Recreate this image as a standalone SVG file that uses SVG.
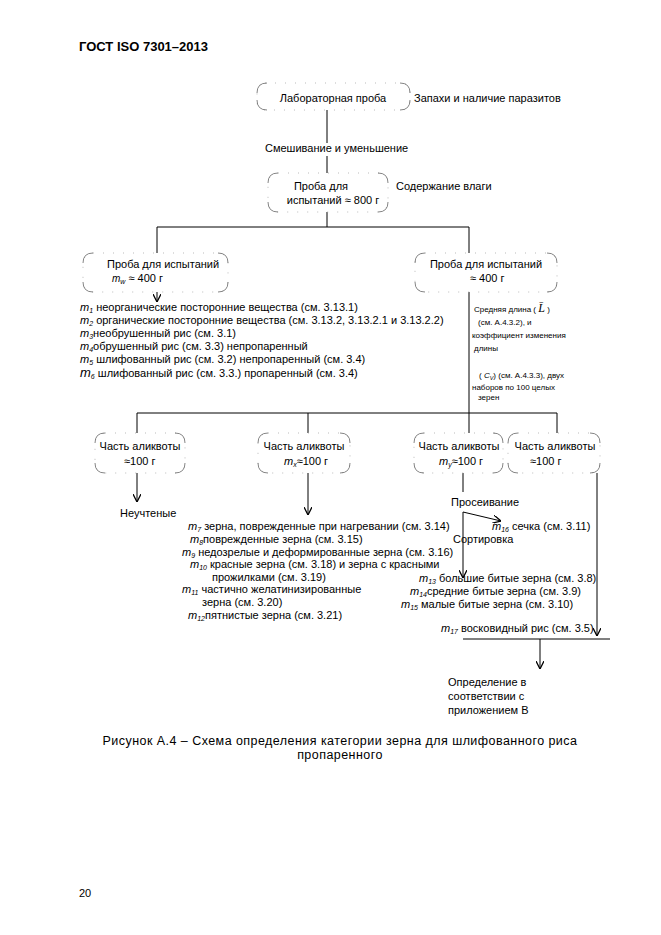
<svg xmlns="http://www.w3.org/2000/svg" width="661" height="935" viewBox="0 0 661 935">
<style>
text{font-family:"Liberation Sans",Arial,sans-serif;font-size:11px;fill:#000}
.h{font-size:13px;font-weight:bold}
.s{font-size:8px}
.c{font-size:12.5px;letter-spacing:0.45px}
.m{font-style:italic}
.sub{font-size:7px;font-style:italic}
.corner{fill:none;stroke:#666;stroke-width:0.8}
.dots{fill:none;stroke:#aaa;stroke-width:0.8;stroke-dasharray:1 9}
.ln{fill:none;stroke:#000;stroke-width:1}
</style>
<defs>
<marker id="arr" viewBox="0 0 10 10" refX="10" refY="5" markerWidth="8" markerHeight="8" markerUnits="userSpaceOnUse" orient="auto">
<path d="M0,0 L10,5 L0,10" fill="none" stroke="#000" stroke-width="1.6"/>
</marker>
</defs>
<rect width="661" height="935" fill="#fff"/>
<text class="h" x="79" y="51">ГОСТ ISO 7301–2013</text>

<g id="connectors">
<path class="ln" d="M327,110 V143 M327,156 V173 M327,212 V227 M157,227 H469 M157,227 V253 M469,227 V253"/>
<path class="ln" d="M157,292 V302" marker-end="url(#arr)"/>
<path class="ln" d="M469,292 V413 M137,413 H557 M137,413 V433 M308,413 V433 M469,413 V433 M557,413 V433"/>
<path class="ln" d="M137,473 V502" marker-end="url(#arr)"/>
<path class="ln" d="M308,473 V515" marker-end="url(#arr)"/>
<path class="ln" d="M463,473 V492"/>
<path class="ln" d="M463,512 V578" marker-end="url(#arr)"/>
<path class="ln" d="M463,512 L501,521" marker-end="url(#arr)"/>
<path class="ln" d="M597,473 V636" marker-end="url(#arr)"/>
<path class="ln" d="M463,639 H610"/>
<path class="ln" d="M540,639 V669" marker-end="url(#arr)"/>
</g>

<g id="lab">
<rect class="dots" x="257" y="83" width="153" height="27" rx="8"/>
<path class="corner" d="M257,93 Q257,83 267,83 M400,83 Q410,83 410,93 M410,100 Q410,110 400,110 M267,110 Q257,110 257,100"/>
<text x="333" y="102" text-anchor="middle">Лабораторная проба</text>
</g>
<text x="414" y="102">Запахи и наличие паразитов</text>
<text x="265" y="152">Смешивание и уменьшение</text>

<g id="p800">
<rect class="dots" x="268" y="173" width="120" height="39" rx="10"/>
<path class="corner" d="M268,183 Q268,173 278,173 M378,173 Q388,173 388,183 M388,202 Q388,212 378,212 M278,212 Q268,212 268,202"/>
<text x="321" y="190" text-anchor="middle">Проба для</text>
<text x="333" y="204" text-anchor="middle">испытаний ≈ 800 г</text>
</g>
<text x="396" y="190">Содержание влаги</text>

<g id="pL">
<rect class="dots" x="83" y="253" width="145" height="39" rx="10"/>
<path class="corner" d="M83,263 Q83,253 93,253 M218,253 Q228,253 228,263 M228,282 Q228,292 218,292 M93,292 Q83,292 83,282"/>
<text x="107" y="268">Проба для испытаний</text>
<text x="112" y="282"><tspan class="m" font-size="10">m</tspan><tspan class="sub" dy="1.5">w</tspan><tspan dy="-1.5"> ≈  400 г</tspan></text>
</g>

<g id="listL">
<text x="80" y="311"><tspan class="m">m</tspan><tspan class="sub" dy="2">1</tspan><tspan dy="-2"> неорганические посторонние вещества (см. 3.13.1)</tspan></text>
<text x="80" y="324"><tspan class="m">m</tspan><tspan class="sub" dy="2">2</tspan><tspan dy="-2"> органические посторонние вещества (см. 3.13.2, 3.13.2.1 и 3.13.2.2)</tspan></text>
<text x="80" y="337"><tspan class="m">m</tspan><tspan class="sub" dy="2">3</tspan><tspan dy="-2">необрушенный рис (см. 3.1)</tspan></text>
<text x="80" y="350"><tspan class="m">m</tspan><tspan class="sub" dy="2">4</tspan><tspan dy="-2">обрушенный рис (см. 3.3) непропаренный</tspan></text>
<text x="80" y="363"><tspan class="m">m</tspan><tspan class="sub" dy="2">5</tspan><tspan dy="-2"> шлифованный рис (см. 3.2) непропаренный (см. 3.4)</tspan></text>
<text x="80" y="377"><tspan class="m" font-size="13">m</tspan><tspan class="sub" dy="2">6</tspan><tspan dy="-2"> шлифованный рис (см. 3.3.) пропаренный (см. 3.4)</tspan></text>
</g>

<g id="pR">
<rect class="dots" x="415" y="253" width="142" height="39" rx="10"/>
<path class="corner" d="M415,263 Q415,253 425,253 M547,253 Q557,253 557,263 M557,282 Q557,292 547,292 M425,292 Q415,292 415,282"/>
<text x="486" y="268" text-anchor="middle">Проба для испытаний</text>
<text x="470" y="282">≈  400  г</text>
</g>

<g id="lenNote">
<text class="s" x="474" y="312">Средняя длина ( <tspan font-family="Liberation Serif,serif" font-style="italic" font-size="12">L̄</tspan> )</text>
<text class="s" x="478" y="325">(см. А.4.3.2),  и</text>
<text class="s" x="472" y="338">коэффициент изменения</text>
<text class="s" x="474" y="351">длины</text>
<text class="s" x="479" y="378">( <tspan font-style="italic">C</tspan><tspan font-size="5.5" font-style="italic" dy="1.5">V</tspan><tspan dy="-1.5">) (см. А.4.3.3), двух</tspan></text>
<text class="s" x="472" y="390">наборов по 100 целых</text>
<text class="s" x="478" y="400">зерен</text>
</g>

<g id="a1">
<rect class="dots" x="95" y="433" width="90" height="40" rx="10"/>
<path class="corner" d="M95,443 Q95,433 105,433 M175,433 Q185,433 185,443 M185,463 Q185,473 175,473 M105,473 Q95,473 95,463"/>
<text x="140" y="450" text-anchor="middle">Часть аликвоты</text>
<text x="124" y="465">≈100  г</text>
</g>
<g id="a2">
<rect class="dots" x="258" y="433" width="92" height="40" rx="10"/>
<path class="corner" d="M258,443 Q258,433 268,433 M340,433 Q350,433 350,443 M350,463 Q350,473 340,473 M268,473 Q258,473 258,463"/>
<text x="304" y="450" text-anchor="middle">Часть аликвоты</text>
<text x="284" y="465"><tspan class="m">m</tspan><tspan class="sub" dy="2">x</tspan><tspan dy="-2">≈100  г</tspan></text>
</g>
<g id="a3">
<rect class="dots" x="414" y="433" width="89" height="40" rx="10"/>
<path class="corner" d="M414,443 Q414,433 424,433 M493,433 Q503,433 503,443 M503,463 Q503,473 493,473 M424,473 Q414,473 414,463"/>
<text x="459" y="450" text-anchor="middle">Часть аликвоты</text>
<text x="439" y="465"><tspan class="m">m</tspan><tspan class="sub" dy="2">y</tspan><tspan dy="-2">≈100  г</tspan></text>
</g>
<g id="a4">
<rect class="dots" x="508" y="433" width="92" height="40" rx="10"/>
<path class="corner" d="M508,443 Q508,433 518,433 M590,433 Q600,433 600,443 M600,463 Q600,473 590,473 M518,473 Q508,473 508,463"/>
<text x="555" y="450" text-anchor="middle">Часть аликвоты</text>
<text x="530" y="465">≈100  г</text>
</g>

<text x="120" y="517">Неучтеные</text>

<g id="listM">
<text x="188" y="530"><tspan class="m">m</tspan><tspan class="sub" dy="2">7</tspan><tspan dy="-2"> зерна, поврежденные при нагревании (см. 3.14)</tspan></text>
<text x="190" y="543"><tspan class="m">m</tspan><tspan class="sub" dy="2">8</tspan><tspan dy="-2">поврежденные зерна (см. 3.15)</tspan></text>
<text x="182" y="556"><tspan class="m">m</tspan><tspan class="sub" dy="2">9</tspan><tspan dy="-2"> недозрелые и деформированные зерна (см. 3.16)</tspan></text>
<text x="190" y="568"><tspan class="m">m</tspan><tspan class="sub" dy="2">10</tspan><tspan dy="-2">  красные зерна (см. 3.18) и зерна с красными</tspan></text>
<text x="212" y="581">прожилками (см. 3.19)</text>
<text x="182" y="593"><tspan class="m">m</tspan><tspan class="sub" dy="2">11</tspan><tspan dy="-2"> частично желатинизированные</tspan></text>
<text x="202" y="606">зерна (см. 3.20)</text>
<text x="188" y="619"><tspan class="m">m</tspan><tspan class="sub" dy="2">12</tspan><tspan dy="-2">пятнистые зерна (см. 3.21)</tspan></text>
</g>

<g id="listR">
<text x="451" y="506">Просеивание</text>
<text x="492" y="530"><tspan class="m">m</tspan><tspan class="sub" dy="2">16</tspan><tspan dy="-2"> сечка (см. 3.11)</tspan></text>
<text x="453" y="543">Сортировка</text>
<text x="419" y="582"><tspan class="m">m</tspan><tspan class="sub" dy="2">13</tspan><tspan dy="-2"> большие битые зерна (см. 3.8)</tspan></text>
<text x="410" y="595"><tspan class="m">m</tspan><tspan class="sub" dy="2">14</tspan><tspan dy="-2">средние битые зерна (см. 3.9)</tspan></text>
<text x="401" y="608"><tspan class="m">m</tspan><tspan class="sub" dy="2">15</tspan><tspan dy="-2"> малые битые зерна (см. 3.10)</tspan></text>
<text x="441" y="632"><tspan class="m">m</tspan><tspan class="sub" dy="2">17</tspan><tspan dy="-2"> восковидный рис (см. 3.5)</tspan></text>
</g>

<g id="result">
<text x="448" y="686">Определение в</text>
<text x="448" y="700">соответствии с</text>
<text x="448" y="714">приложением В</text>
</g>

<text class="c" x="340" y="745" text-anchor="middle">Рисунок А.4 – Схема определения категории зерна для шлифованного риса</text>
<text class="c" x="340" y="759" text-anchor="middle">пропаренного</text>
<text x="79" y="897" font-size="12.5">20</text>
</svg>
